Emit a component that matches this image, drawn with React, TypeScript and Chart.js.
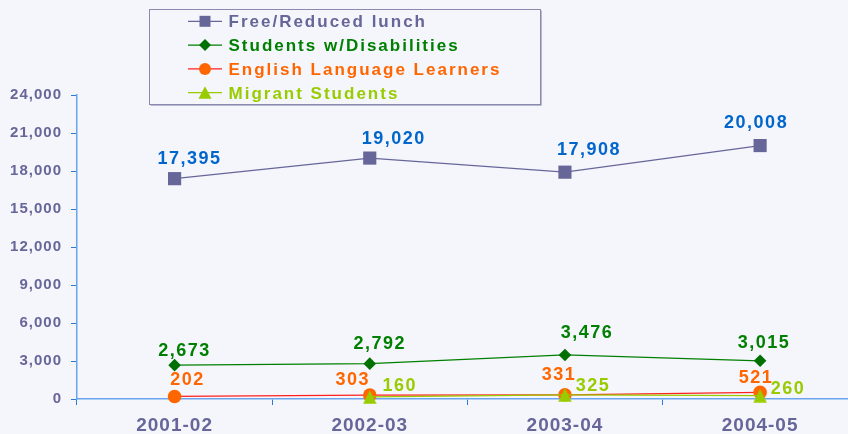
import React, { useEffect, useRef } from 'react';
import { Chart, registerables } from 'chart.js';

Chart.register(...registerables);

// ---------- data ----------
const categories = ['2001-02', '2002-03', '2003-04', '2004-05'];
const seriesNames = ['Free/Reduced lunch', 'Students w/Disabilities', 'English Language Learners', 'Migrant Students'];
const freeReducedLunch = [17395, 19020, 17908, 20008];
const studentsWithDisabilities = [2673, 2792, 3476, 3015];
const englishLanguageLearners = [202, 303, 331, 521];
const migrantStudents: (number | null)[] = [null, 160, 325, 260];
const yMin = 0;
const yMax = 24000;
const yStep = 3000;

// ---------- styles ----------
const FONT = '"Liberation Sans", Arial, Helvetica, sans-serif';
const BG = '#F5F5FC';
const AXIS_TEXT = '#666699';
const AXIS_LINE = '#6AA5EE';
const TICK_LINE = '#2E78D8';
const lineColors = ['#666699', '#008000', '#FF2020', '#99CC00'];
const markerColors = ['#666699', '#007000', '#FF6600', '#99CC00'];
const labelColors = ['#0066CC', '#008000', '#FF6600', '#99CC00'];
const legendTextColors = ['#666699', '#008000', '#FF6600', '#99CC00'];
// label nudges (text placement relative to each point, px)
const labelNudges = [
  [[15, -21], [24, -21], [24, -24], [-4, -24]],
  [[10, -16], [10, -21], [22, -23], [4, -19]],
  [[13, -18], [-17, -17], [-6, -21], [-4, -16]],
  [[0, 0], [30, -12], [28, -10], [28, -8]],
];

function makeTriangle(size: number, color: string): HTMLCanvasElement {
  const c = document.createElement('canvas');
  c.width = size;
  c.height = size;
  const g = c.getContext('2d')!;
  g.fillStyle = color;
  g.beginPath();
  g.moveTo(size / 2, 0.3);
  g.lineTo(size - 0.3, size - 0.3);
  g.lineTo(0.3, size - 0.3);
  g.closePath();
  g.fill();
  return c;
}

function drawMarker(ctx: CanvasRenderingContext2D, kind: number, x: number, y: number, color: string) {
  ctx.save();
  ctx.fillStyle = color;
  ctx.beginPath();
  if (kind === 0) {
    ctx.rect(x - 5.5, y - 5.5, 11, 11);
  } else if (kind === 1) {
    ctx.moveTo(x, y - 6);
    ctx.lineTo(x + 6, y);
    ctx.lineTo(x, y + 6);
    ctx.lineTo(x - 6, y);
    ctx.closePath();
  } else if (kind === 2) {
    ctx.arc(x, y, 6, 0, Math.PI * 2);
  } else {
    ctx.moveTo(x, y - 6.5);
    ctx.lineTo(x + 6.5, y + 6);
    ctx.lineTo(x - 6.5, y + 6);
    ctx.closePath();
  }
  ctx.fill();
  ctx.restore();
}

const spacingPlugin = {
  id: 'spacing',
  beforeDraw(chart: any) {
    (chart.ctx as any).letterSpacing = '1px';
  },
};

const labelsPlugin = {
  id: 'pointLabels',
  afterDatasetsDraw(chart: any) {
    const ctx: CanvasRenderingContext2D = chart.ctx;
    ctx.save();
    (ctx as any).letterSpacing = '1.5px';
    ctx.font = `bold 18px ${FONT}`;
    ctx.textAlign = 'center';
    ctx.textBaseline = 'alphabetic';
    chart.data.datasets.forEach((ds: any, di: number) => {
      const meta = chart.getDatasetMeta(di);
      meta.data.forEach((pt: any, i: number) => {
        const v = ds.data[i];
        if (v === null || v === undefined) return;
        const [dx, dy] = labelNudges[di][i];
        ctx.fillStyle = labelColors[di];
        ctx.fillText(v.toLocaleString('en-US'), pt.x + dx, pt.y + dy + 18 * 0.358);
      });
    });
    ctx.restore();
  },
};

const legendPlugin = {
  id: 'boxLegend',
  afterDraw(chart: any) {
    const ctx: CanvasRenderingContext2D = chart.ctx;
    ctx.save();
    const bx = 149.5, by = 9.5, bw = 391, bh = 95;
    ctx.fillStyle = BG;
    ctx.fillRect(bx, by, bw, bh);
    ctx.strokeStyle = '#B8B8D0';
    ctx.lineWidth = 1;
    ctx.beginPath();
    ctx.moveTo(bx + 1, by + bh + 1);
    ctx.lineTo(bx + bw + 1, by + bh + 1);
    ctx.lineTo(bx + bw + 1, by + 1);
    ctx.stroke();
    ctx.strokeStyle = '#8A8AAE';
    ctx.strokeRect(bx, by, bw, bh);
    ctx.font = `bold 17px ${FONT}`;
    (ctx as any).letterSpacing = '2px';
    ctx.textAlign = 'left';
    ctx.textBaseline = 'alphabetic';
    seriesNames.forEach((name, i) => {
      const cy = 21.3 + i * 23.8;
      ctx.strokeStyle = lineColors[i];
      ctx.lineWidth = 1.3;
      ctx.beginPath();
      ctx.moveTo(188, cy);
      ctx.lineTo(222, cy);
      ctx.stroke();
      drawMarker(ctx, i, 205, cy, markerColors[i]);
      ctx.fillStyle = legendTextColors[i];
      ctx.fillText(name, 228.5, cy + 17 * 0.358);
    });
    ctx.restore();
  },
};

export default function App() {
  const ref = useRef<HTMLCanvasElement>(null);

  useEffect(() => {
    document.body.style.margin = '0';
    document.body.style.background = BG;
    document.documentElement.style.overflow = 'hidden';
    const canvas = ref.current!;
    const tri = makeTriangle(14, markerColors[3]);
    const chart = new Chart(canvas, {
      type: 'line',
      data: {
        labels: categories,
        datasets: [
          {
            label: seriesNames[0],
            data: freeReducedLunch,
            borderColor: lineColors[0],
            borderWidth: 1.3,
            pointStyle: 'rect',
            pointRadius: 9.3,
            pointBackgroundColor: markerColors[0],
            pointBorderColor: markerColors[0],
            pointBorderWidth: 0,
            clip: false,
            order: 3,
          },
          {
            label: seriesNames[1],
            data: studentsWithDisabilities,
            borderColor: lineColors[1],
            borderWidth: 1.3,
            pointStyle: 'rectRot',
            pointRadius: 6.3,
            pointBackgroundColor: markerColors[1],
            pointBorderColor: markerColors[1],
            pointBorderWidth: 0,
            clip: false,
            order: 2,
          },
          {
            label: seriesNames[2],
            data: englishLanguageLearners,
            borderColor: lineColors[2],
            borderWidth: 1.3,
            pointStyle: 'circle',
            pointRadius: 6.8,
            pointBackgroundColor: markerColors[2],
            pointBorderColor: markerColors[2],
            pointBorderWidth: 0,
            clip: false,
            order: 1,
          },
          {
            label: seriesNames[3],
            data: migrantStudents,
            borderColor: lineColors[3],
            borderWidth: 1.3,
            pointStyle: tri,
            pointRadius: 7,
            pointBackgroundColor: markerColors[3],
            pointBorderColor: markerColors[3],
            clip: false,
            spanGaps: false,
            order: 0,
          },
        ],
      },
      options: {
        responsive: false,
        animation: false,
        devicePixelRatio: 1,
        layout: { padding: { top: 95, left: 0, right: 0, bottom: 0 } },
        plugins: {
          legend: { display: false },
          tooltip: { enabled: false },
        },
        scales: {
          x: {
            offset: true,
            grid: {
              offset: true,
              drawOnChartArea: false,
              drawTicks: true,
              tickLength: 6,
              color: TICK_LINE,
              lineWidth: 1,
            },
            border: { display: true, color: AXIS_LINE, width: 1.5 },
            ticks: {
              color: AXIS_TEXT,
              padding: 9,
              font: { family: FONT, size: 19, weight: 'bold' },
              maxRotation: 0,
            },
            afterFit: (s: any) => {
              s.height = 35;
            },
          },
          y: {
            min: yMin,
            max: yMax,
            grid: {
              drawOnChartArea: false,
              drawTicks: true,
              tickLength: 6,
              color: TICK_LINE,
              lineWidth: 1,
            },
            border: { display: true, color: AXIS_LINE, width: 1.5 },
            ticks: {
              stepSize: yStep,
              color: AXIS_TEXT,
              padding: 9,
              font: { family: FONT, size: 15, weight: 'bold' },
              callback: (v: any) => Number(v).toLocaleString('en-US'),
            },
            afterFit: (s: any) => {
              s.width = 77;
            },
          },
        },
      },
      plugins: [spacingPlugin, labelsPlugin, legendPlugin],
    } as any);
    return () => chart.destroy();
  }, []);

  return (
    <div style={{ position: 'fixed', left: 0, top: 0, width: 848, height: 434, background: BG, overflow: 'hidden' }}>
      <canvas ref={ref} width={867} height={434} style={{ display: 'block', width: 867, height: 434 }} />
    </div>
  );
}
